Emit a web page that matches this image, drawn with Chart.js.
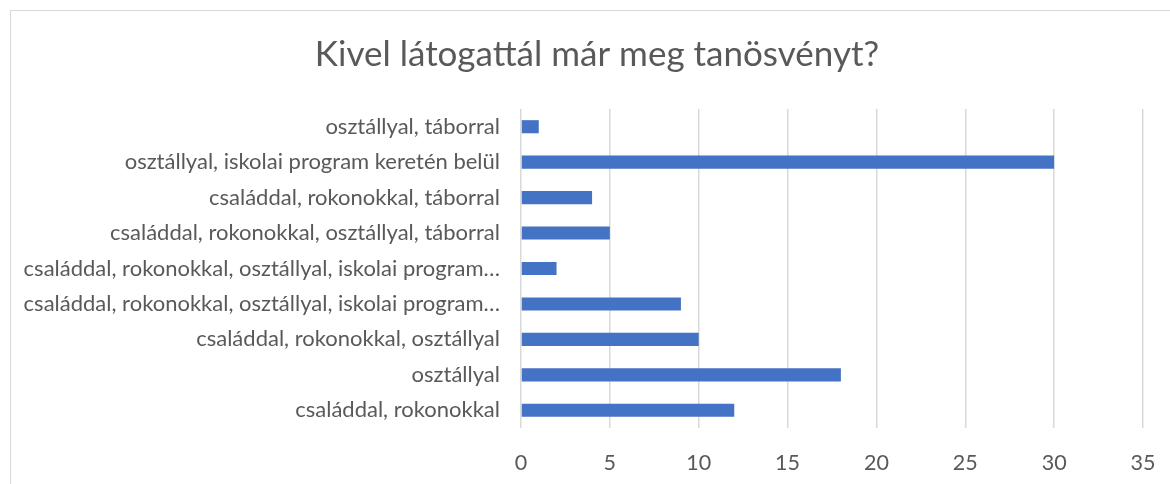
<!DOCTYPE html>
<html>
<head>
<meta charset="utf-8">
<script src="https://cdn.jsdelivr.net/npm/chart.js@4"></script>
<style>
    html, body { margin: 0; padding: 0; background: #fff; }
    #wrap { position: relative; width: 1170px; height: 484px; overflow: hidden; }
    #frame { position: absolute; left: 10px; top: 10px; width: 1200px; height: 500px; border: 1px solid #d9d9d9; pointer-events: none; }
</style>
</head>
<body>
<div id="wrap">
    <canvas id="chart" width="1170" height="484"></canvas>
    <div id="frame"></div>
</div>
<script>
const chartTitle = 'Kivel látogattál már meg tanösvényt?';

// top to bottom, as in the picture
const categories = [
    'osztállyal, táborral',
    'osztállyal, iskolai program keretén belül',
    'családdal, rokonokkal, táborral',
    'családdal, rokonokkal, osztállyal, táborral',
    'családdal, rokonokkal, osztállyal, iskolai program…',
    'családdal, rokonokkal, osztállyal, iskolai program…',
    'családdal, rokonokkal, osztállyal',
    'osztállyal',
    'családdal, rokonokkal'
];
const counts = [1, 30, 4, 5, 2, 9, 10, 18, 12];
const xTicks = [0, 5, 10, 15, 20, 25, 30, 35];

const textColor = '#595959';
const gridColor = '#d9d9d9';
const fontFamily = 'Lato, "Open Sans", sans-serif';

// the title is centred on the whole chart frame, which runs past the window edge
const frameTitle = {
    id: 'frameTitle',
    afterDraw(chart) {
        const c = chart.ctx;
        c.save();
        c.fillStyle = textColor;
        c.font = `35px ${fontFamily}`;
        c.textAlign = 'center';
        c.textBaseline = 'middle';
        c.fillText(chartTitle, 597, 55);
        c.restore();
    }
};

const ctx = document.getElementById('chart').getContext('2d');
new Chart(ctx, {
    type: 'bar',
    data: {
        labels: categories,
        datasets: [{
            data: counts,
            backgroundColor: '#4472C4',
            barPercentage: 0.37,
            categoryPercentage: 1.0
        }]
    },
    options: {
        indexAxis: 'y',
        responsive: false,
        animation: false,
        layout: { padding: { left: 10, right: 0, top: 109, bottom: 0 } },
        plugins: {
            legend: { display: false },
            tooltip: { enabled: false },
            title: { display: false }
        },
        scales: {
            x: {
                min: xTicks[0],
                max: xTicks[xTicks.length - 1],
                afterBuildTicks: scale => { scale.ticks = xTicks.map(v => ({ value: v })); },
                afterFit: scale => {
                    scale.height = 56;
                    scale.paddingLeft = 0;
                    scale.paddingRight = 27;
                },
                grid: { color: gridColor, lineWidth: 1.5, drawTicks: false },
                border: { display: false },
                ticks: { color: textColor, padding: 22, font: { family: fontFamily, size: 21.5 } }
            },
            y: {
                afterFit: scale => { scale.width = 511; },
                grid: { display: false, drawTicks: false },
                border: { display: false },
                ticks: { color: textColor, padding: 21, autoSkip: false, font: { family: fontFamily, size: 22 } }
            }
        }
    },
    plugins: [frameTitle]
});
</script>
</body>
</html>
